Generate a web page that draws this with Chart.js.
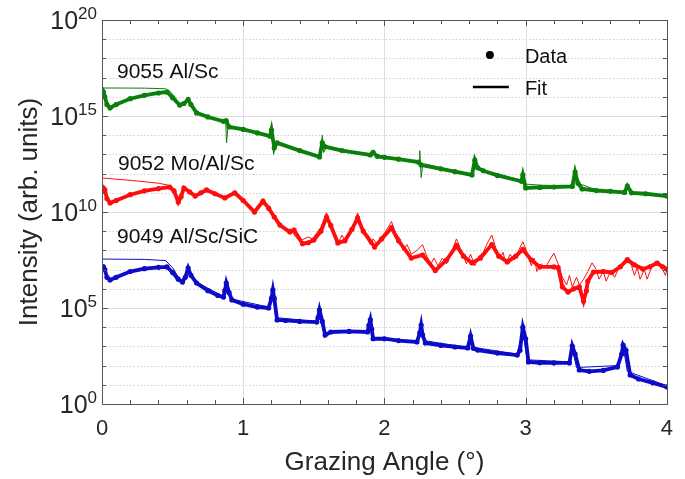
<!DOCTYPE html>
<html>
<head>
<meta charset="utf-8">
<script src="https://cdn.jsdelivr.net/npm/chart.js@4/dist/chart.umd.min.js"></script>
<style>
  html, body { margin: 0; padding: 0; background: #ffffff; }
  #c { display: block; }
</style>
</head>
<body>
<canvas id="c" width="685" height="479"></canvas>
<script>
// ---------------- DATA ----------------
const seriesNames = ['9055 Al/Sc', '9052 Mo/Al/Sc', '9049 Al/Sc/SiC'];
const xTickLabels = ['0', '1', '2', '3', '4'];
const yTickExponents = [0, 5, 10, 15, 20];

// 9055 Al/Sc — measured data
const alScDataX = [0, 0.01, 0.02, 0.035, 0.057, 0.1, 0.2, 0.3, 0.4, 0.46, 0.5, 0.55, 0.58, 0.61, 0.63, 0.67, 0.75, 0.86, 0.88, 0.9, 1.0, 1.1, 1.19, 1.2, 1.22, 1.24, 1.4, 1.54, 1.56, 1.58, 1.7, 1.9, 1.92, 1.95, 2.0, 2.1, 2.24, 2.26, 2.4, 2.5, 2.62, 2.64, 2.66, 2.7, 2.8, 2.97, 2.98, 3.0, 3.1, 3.2, 3.33, 3.35, 3.37, 3.4, 3.5, 3.6, 3.7, 3.72, 3.75, 3.85, 4.0];
const alScDataY = [1.26e16, 1.78e16, 1.0e16, 3.98e15, 2.63e15, 3.98e15, 7.94e15, 1.2e16, 1.58e16, 1.78e16, 8.91e15, 3.72e15, 4.47e15, 7.24e15, 3.98e15, 1.45e15, 8.91e14, 5.25e14, 5.62e14, 2.69e14, 2.0e14, 1.32e14, 8.91e13, 1.86e14, 2.24e13, 3.98e13, 1.58e13, 7.41e12, 3.98e13, 2.51e13, 1.58e13, 9.33e12, 1.26e13, 7.94e12, 7.08e12, 5.62e12, 3.98e12, 2.82e12, 1.78e12, 1.26e12, 8.51e11, 5.01e12, 2.0e12, 1.41e12, 7.94e11, 3.98e11, 8.51e11, 1.78e11, 1.9e11, 2.0e11, 2.14e11, 1.2e12, 3.16e11, 1.58e11, 1.32e11, 1.2e11, 1.05e11, 2.24e11, 1.0e11, 8.91e10, 6.76e10];
// 9055 Al/Sc — fit
const alScFitX = [0, 0.3, 0.45, 0.48, 0.52, 0.55, 0.59, 0.61, 0.63, 0.67, 0.75, 0.865, 0.875, 0.882, 0.89, 0.9, 1.0, 1.19, 1.2, 1.215, 1.23, 1.3, 1.55, 1.56, 1.57, 1.59, 1.7, 1.91, 1.925, 1.94, 2.1, 2.245, 2.25, 2.26, 2.27, 2.29, 2.4, 2.62, 2.64, 2.66, 2.8, 2.97, 2.98, 3.0, 3.1, 3.2, 3.33, 3.35, 3.37, 3.5, 3.71, 3.72, 3.74, 4.0];
const alScFitY = [2.88e16, 2.82e16, 2.63e16, 2.0e16, 8.91e15, 3.98e15, 5.62e15, 7.94e15, 3.98e15, 1.58e15, 9.33e14, 5.62e14, 7.94e14, 3.98e13, 2.0e14, 2.95e14, 2.14e14, 1.0e14, 2.0e14, 1.0e13, 4.47e13, 2.82e13, 7.94e12, 1.0e14, 1.26e13, 2.51e13, 1.66e13, 9.55e12, 1.41e13, 7.94e12, 5.25e12, 4.17e12, 1.58e13, 6.31e11, 2.51e12, 3.16e12, 2.0e12, 8.91e11, 3.98e12, 1.78e12, 1.0e12, 4.47e11, 7.94e11, 2.82e11, 2.51e11, 2.4e11, 2.24e11, 8.91e11, 3.16e11, 1.41e11, 1.12e11, 2.0e11, 1.12e11, 7.08e10];

// 9052 Mo/Al/Sc — measured data
const moAlScDataX = [0, 0.01, 0.02, 0.035, 0.057, 0.1, 0.2, 0.3, 0.4, 0.48, 0.51, 0.54, 0.56, 0.58, 0.62, 0.66, 0.7, 0.74, 0.8, 0.87, 0.94, 1.0, 1.08, 1.14, 1.18, 1.22, 1.26, 1.33, 1.36, 1.42, 1.46, 1.5, 1.55, 1.59, 1.62, 1.67, 1.72, 1.77, 1.81, 1.85, 1.93, 1.98, 2.05, 2.1, 2.19, 2.27, 2.36, 2.44, 2.51, 2.56, 2.62, 2.68, 2.76, 2.81, 2.87, 2.93, 2.98, 3.04, 3.1, 3.2, 3.23, 3.26, 3.3, 3.34, 3.38, 3.41, 3.43, 3.44, 3.48, 3.55, 3.61, 3.67, 3.72, 3.77, 3.83, 3.88, 3.93, 3.97, 4.0];
const moAlScDataY = [1.26e11, 1.78e11, 1.41e11, 5.01e10, 2.95e10, 3.98e10, 7.94e10, 1.26e11, 1.66e11, 2.0e11, 1.26e11, 3.31e10, 6.31e10, 1.78e11, 1.12e11, 6.76e10, 1.0e11, 1.41e11, 8.91e10, 5.4e10, 1.0e11, 3.98e10, 1.0e10, 3.72e10, 1.58e10, 5.5e9, 2.09e9, 9.12e8, 1.15e9, 2.24e8, 2.51e8, 3.47e8, 1.0e9, 5.5e9, 2.0e9, 2.45e8, 3.16e8, 1.26e9, 4.9e9, 1.0e9, 1.51e8, 3.98e8, 1.48e9, 3.16e8, 3.98e7, 5.75e7, 8.91e6, 3.16e7, 1.78e8, 5.01e7, 2.24e7, 3.98e7, 2.0e8, 5.01e7, 2.51e7, 5.01e7, 1.12e8, 3.16e7, 1.38e7, 1.38e7, 1.26e7, 1.26e6, 6.76e5, 1.0e6, 1.26e6, 2.24e5, 7.94e5, 2.51e6, 7.41e6, 7.94e6, 7.08e6, 1.41e7, 3.31e7, 1.78e7, 1.07e7, 1.41e7, 2.19e7, 1.41e7, 1.07e7];
// 9052 Mo/Al/Sc — fit
const moAlScFitX = [0, 0.2, 0.4, 0.47, 0.5, 0.54, 0.58, 0.62, 0.66, 0.74, 0.87, 0.94, 1.0, 1.08, 1.14, 1.18, 1.22, 1.26, 1.3, 1.34, 1.37, 1.4, 1.43, 1.46, 1.49, 1.52, 1.55, 1.59, 1.62, 1.65, 1.68, 1.7, 1.72, 1.75, 1.78, 1.81, 1.84, 1.87, 1.9, 1.92, 1.95, 1.98, 2.01, 2.05, 2.08, 2.11, 2.13, 2.16, 2.19, 2.23, 2.27, 2.3, 2.33, 2.35, 2.38, 2.41, 2.44, 2.47, 2.51, 2.55, 2.58, 2.61, 2.64, 2.67, 2.7, 2.73, 2.76, 2.79, 2.82, 2.84, 2.86, 2.89, 2.92, 2.95, 2.98, 3.01, 3.04, 3.06, 3.08, 3.11, 3.14, 3.17, 3.2, 3.23, 3.26, 3.29, 3.31, 3.33, 3.36, 3.38, 3.41, 3.44, 3.47, 3.5, 3.52, 3.55, 3.57, 3.6, 3.63, 3.66, 3.69, 3.72, 3.75, 3.77, 3.79, 3.81, 3.84, 3.86, 3.89, 3.92, 3.94, 3.97, 3.99, 4.0];
const moAlScFitY = [5.89e11, 4.47e11, 3.16e11, 2.51e11, 1.58e11, 3.98e10, 1.91e11, 1.12e11, 7.08e10, 1.48e11, 5.62e10, 1.05e11, 3.98e10, 1.0e10, 3.98e10, 1.58e10, 5.62e9, 2.24e9, 1.26e9, 1.26e9, 5.01e8, 3.16e8, 3.98e8, 5.01e8, 3.98e8, 7.94e8, 1.58e9, 8.91e9, 2.0e9, 5.01e8, 3.16e8, 6.31e8, 3.16e8, 7.94e8, 2.0e9, 8.91e9, 2.0e9, 5.01e8, 2.0e8, 3.98e8, 2.0e8, 5.01e8, 1.0e9, 3.16e9, 7.94e8, 3.98e8, 1.0e8, 2.0e8, 6.31e7, 1.0e8, 2.0e8, 5.01e7, 2.0e7, 3.98e7, 1.58e7, 3.98e7, 2.0e7, 6.31e7, 3.98e8, 7.94e7, 2.0e7, 6.31e7, 1.58e7, 5.01e7, 7.94e7, 2.51e8, 6.31e8, 1.26e8, 3.98e7, 7.94e7, 2.0e7, 6.31e7, 3.16e7, 1.0e8, 2.82e8, 7.94e7, 1.58e7, 3.98e7, 7.94e6, 2.0e7, 1.26e7, 3.16e7, 7.08e7, 2.0e7, 3.98e6, 1.58e6, 5.01e6, 1.26e6, 3.98e6, 1.58e6, 3.16e6, 7.94e6, 2.24e7, 1.0e7, 3.16e6, 7.94e6, 2.51e6, 7.94e6, 3.98e6, 1.26e7, 2.0e7, 3.98e7, 1.58e7, 5.01e6, 1.26e7, 3.16e6, 1.0e7, 3.16e6, 1.26e7, 2.0e7, 2.82e7, 1.0e7, 5.01e6, 1.0e7];

// 9049 Al/Sc/SiC — measured data
const alScSiCDataX = [0, 0.01, 0.02, 0.035, 0.057, 0.1, 0.2, 0.3, 0.4, 0.46, 0.5, 0.54, 0.57, 0.59, 0.61, 0.63, 0.67, 0.75, 0.82, 0.86, 0.87, 0.88, 0.9, 0.92, 1.0, 1.1, 1.18, 1.2, 1.21, 1.22, 1.24, 1.3, 1.4, 1.52, 1.53, 1.54, 1.56, 1.58, 1.62, 1.75, 1.88, 1.89, 1.9, 1.91, 1.92, 2.0, 2.1, 2.23, 2.25, 2.26, 2.27, 2.29, 2.4, 2.5, 2.59, 2.61, 2.63, 2.66, 2.8, 2.94, 2.96, 2.98, 3.0, 3.02, 3.1, 3.2, 3.31, 3.33, 3.35, 3.38, 3.45, 3.55, 3.65, 3.68, 3.69, 3.71, 3.74, 3.8, 3.9, 4.0];
const alScSiCDataY = [1.26e7, 1.41e7, 1.0e7, 3.98e6, 2.88e6, 3.98e6, 7.94e6, 1.12e7, 1.32e7, 1.38e7, 7.08e6, 3.16e6, 2.24e6, 3.98e6, 1.2e7, 5.01e6, 2.0e6, 7.94e5, 4.47e5, 3.72e5, 7.94e5, 2.0e6, 6.31e5, 2.63e5, 1.58e5, 1.12e5, 1.0e5, 3.16e5, 8.71e5, 3.16e5, 2.4e4, 2.24e4, 2.0e4, 1.86e4, 3.16e4, 7.94e4, 2.0e4, 3.89e3, 5.62e3, 6.03e3, 5.62e3, 1.26e4, 2.4e4, 7.94e3, 2.51e3, 2.51e3, 2.0e3, 1.7e3, 5.01e3, 1.29e4, 3.98e3, 1.51e3, 1.12e3, 933, 832, 3.47e3, 794, 646, 447, 355, 631, 1.0e4, 2.51e3, 155, 141, 138, 138, 1.05e3, 398, 58.9, 50.1, 56.2, 85.1, 398, 1.17e3, 631, 32.4, 20.0, 12.6, 7.76];
// 9049 Al/Sc/SiC — fit
const alScSiCFitX = [0, 0.3, 0.45, 0.5, 0.55, 0.57, 0.61, 0.64, 0.67, 0.86, 0.88, 0.9, 0.93, 1.18, 1.21, 1.23, 1.3, 1.52, 1.54, 1.57, 1.75, 1.88, 1.9, 1.92, 2.23, 2.26, 2.28, 2.59, 2.61, 2.63, 2.94, 2.98, 3.01, 3.31, 3.33, 3.36, 3.65, 3.69, 3.72, 4.0];
const alScSiCFitY = [3.55e7, 3.39e7, 2.95e7, 1.26e7, 3.16e6, 2.82e6, 1.0e7, 3.98e6, 2.24e6, 3.98e5, 1.58e6, 6.31e5, 2.82e5, 1.12e5, 6.31e5, 3.16e4, 2.82e4, 2.0e4, 6.31e4, 5.01e3, 6.31e3, 6.31e3, 2.0e4, 2.82e3, 1.78e3, 1.0e4, 2.0e3, 891, 2.82e3, 891, 398, 7.94e3, 200, 158, 891, 79.4, 100, 1.0e3, 50.1, 8.91];

// ---------------- STYLE ----------------
const FONT = "'Liberation Sans', Arial, Helvetica, sans-serif";
const GREEN = '#0b7f0b';
const RED = '#ff0d0d';
const BLUE = '#0c0cc8';
const TEXT = '#262626';

function pts(xs, ys) { return xs.map((x, i) => ({ x: x, y: ys[i] })); }

function dataSet(label, xs, ys, color) {
  return {
    label: label + ' data', data: pts(xs, ys), borderColor: color, backgroundColor: color,
    borderWidth: 3.8, pointRadius: 2.6, pointBorderWidth: 0, pointHoverRadius: 0,
    tension: 0, order: 2
  };
}
function fitSet(label, xs, ys, color) {
  return {
    label: label + ' fit', data: pts(xs, ys), borderColor: color, backgroundColor: color,
    borderWidth: 1, pointRadius: 0, tension: 0, order: 1
  };
}

const annotations = [
  { text: seriesNames[0], x: 0.106, y: 9.55e16 },
  { text: seriesNames[1], x: 0.113, y: 1.55e12 },
  { text: seriesNames[2], x: 0.106, y: 2.45e8 }
];

const decorPlugin = {
  id: 'decor',
  beforeDatasetsDraw(chart) {
    const { ctx, chartArea: a, scales: { x, y } } = chart;
    ctx.save();
    ctx.lineWidth = 1;
    for (let k = 1; k < 20; k++) {
      const py = Math.round(y.getPixelForValue(Math.pow(10, k))) + 0.5;
      if (k % 5 === 0) { ctx.setLineDash([]); ctx.strokeStyle = '#dedede'; }
      else { ctx.setLineDash([1.5, 2]); ctx.strokeStyle = '#cfcfcf'; }
      ctx.beginPath(); ctx.moveTo(a.left, py); ctx.lineTo(a.right, py); ctx.stroke();
    }
    ctx.setLineDash([]);
    ctx.strokeStyle = '#dedede';
    for (let v = 1; v <= 3; v++) {
      const px = Math.round(x.getPixelForValue(v)) + 0.5;
      ctx.beginPath(); ctx.moveTo(px, a.top); ctx.lineTo(px, a.bottom); ctx.stroke();
    }
    ctx.restore();
  },
  afterDraw(chart) {
    const { ctx, chartArea: a, scales: { x, y } } = chart;
    ctx.save();
    // frame
    ctx.strokeStyle = '#555555';
    ctx.lineWidth = 1;
    ctx.strokeRect(Math.round(a.left) + 0.5, Math.round(a.top) + 0.5, Math.round(a.right - a.left), Math.round(a.bottom - a.top));
    // x ticks every 0.2
    ctx.beginPath();
    for (let i = 0; i <= 20; i++) {
      const px = Math.round(x.getPixelForValue(i * 0.2)) + 0.5;
      const len = (i % 5 === 0) ? 6 : 4;
      ctx.moveTo(px, a.bottom); ctx.lineTo(px, a.bottom - len);
      ctx.moveTo(px, a.top); ctx.lineTo(px, a.top + len);
    }
    // y ticks each decade
    for (let k = 0; k <= 20; k++) {
      const py = Math.round(y.getPixelForValue(Math.pow(10, k))) + 0.5;
      const len = (k % 5 === 0) ? 6 : 4;
      ctx.moveTo(a.left, py); ctx.lineTo(a.left + len, py);
      ctx.moveTo(a.right, py); ctx.lineTo(a.right - len, py);
    }
    ctx.stroke();

    // y tick labels 10^k
    ctx.fillStyle = TEXT;
    ctx.textBaseline = 'alphabetic';
    ctx.textAlign = 'left';
    yTickExponents.forEach(k => {
      const py = y.getPixelForValue(Math.pow(10, k));
      const sup = String(k);
      ctx.font = '17px ' + FONT;
      const supW = ctx.measureText(sup).width;
      ctx.font = '25px ' + FONT;
      const mainW = ctx.measureText('10').width;
      const right = a.left - 5;
      ctx.fillText('10', right - supW - mainW, py + 9);
      ctx.font = '17px ' + FONT;
      ctx.fillText(sup, right - supW, py - 1);
    });

    // series labels
    ctx.font = '21px ' + FONT;
    ctx.fillStyle = '#111111';
    annotations.forEach(an => {
      ctx.fillText(an.text, x.getPixelForValue(an.x), y.getPixelForValue(an.y));
    });

    // legend
    const lx = a.right - 177;
    ctx.fillStyle = '#000000';
    ctx.beginPath(); ctx.arc(lx, a.top + 35, 4, 0, Math.PI * 2); ctx.fill();
    ctx.strokeStyle = '#000000'; ctx.lineWidth = 2.5;
    ctx.beginPath(); ctx.moveTo(lx - 17, a.top + 67); ctx.lineTo(lx + 19, a.top + 67); ctx.stroke();
    ctx.font = '20px ' + FONT;
    ctx.fillStyle = '#111111';
    ctx.fillText('Data', lx + 35, a.top + 43);
    ctx.fillText('Fit', lx + 35, a.top + 75);
    ctx.restore();
  }
};

new Chart(document.getElementById('c'), {
  type: 'line',
  data: {
    datasets: [
      fitSet(seriesNames[0], alScFitX, alScFitY, GREEN),
      fitSet(seriesNames[1], moAlScFitX, moAlScFitY, RED),
      fitSet(seriesNames[2], alScSiCFitX, alScSiCFitY, BLUE),
      dataSet(seriesNames[0], alScDataX, alScDataY, GREEN),
      dataSet(seriesNames[1], moAlScDataX, moAlScDataY, RED),
      dataSet(seriesNames[2], alScSiCDataX, alScSiCDataY, BLUE)
    ]
  },
  options: {
    responsive: false,
    animation: false,
    events: [],
    layout: { padding: { left: 0, right: 18, top: 20, bottom: 0 } },
    plugins: { legend: { display: false }, tooltip: { enabled: false } },
    scales: {
      x: {
        type: 'linear', min: 0, max: 4,
        ticks: {
          stepSize: 1, maxRotation: 0, padding: 12, color: TEXT,
          font: { size: 22, family: FONT },
          callback: (v) => xTickLabels[v] !== undefined ? xTickLabels[v] : ''
        },
        grid: { display: false, drawTicks: false },
        border: { display: false },
        title: { display: true, text: 'Grazing Angle (°)', color: TEXT, font: { size: 26, family: FONT }, padding: { top: 0, bottom: 1 } },
        afterFit: (s) => { s.height = 75; }
      },
      y: {
        type: 'logarithmic', min: 1, max: 1e20,
        ticks: { display: false },
        grid: { display: false, drawTicks: false },
        border: { display: false },
        title: { display: true, text: 'Intensity (arb. units)', color: TEXT, font: { size: 26, family: FONT }, padding: { top: 14, bottom: 0 } },
        afterFit: (s) => { s.width = 102; }
      }
    }
  },
  plugins: [decorPlugin]
});
</script>
</body>
</html>
